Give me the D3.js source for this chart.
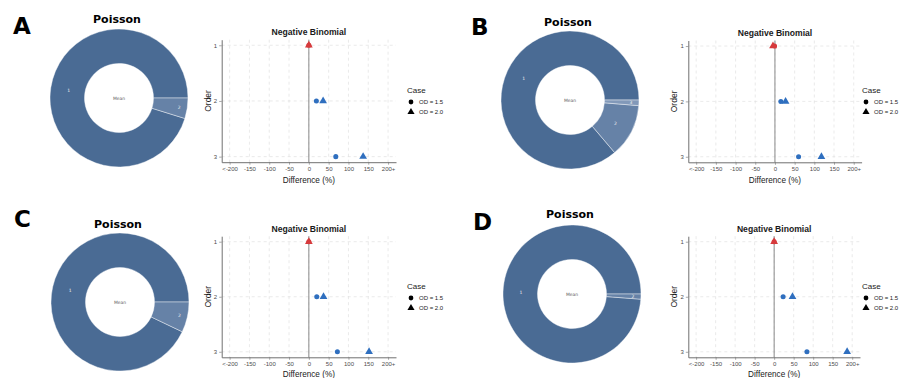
<!DOCTYPE html>
<html>
<head>
<meta charset="utf-8">
<script src="https://cdn.jsdelivr.net/npm/d3@7"></script>
<style>
  body { margin: 0; background: #fff; }
  svg { display: block; }
</style>
</head>
<body>
<div id="chart"></div>
<script>
// Poisson: share (%) of each order in the donut
const poissonA = [95.2, 4.8];
const poissonB = [86.2, 12.5, 1.3];
const poissonC = [92.9, 7.1];
const poissonD = [98.8, 1.2];

// Negative binomial: difference (%) by order, one array per case
const orders = [1, 2, 3];
const od15A = [0, 19, 68];
const od20A = [0, 36, 137];
const od15B = [-1, 15, 60];
const od20B = [-5, 27, 118];
const od15C = [0, 20, 72];
const od20C = [0, 37, 152];
const od15D = [0, 23, 84];
const od20D = [0, 47, 187];

const xTicks = [-200, -150, -100, -50, 0, 50, 100, 150, 200];
const xTickLabels = ['<-200', '-150', '-100', '-50', '0', '50', '100', '150', '200+'];
const caseLabels = ['OD = 1.5', 'OD = 2.0'];
const panelLetters = ['A', 'B', 'C', 'D'];

const width = 918;
const height = 378;

const svg = d3.select('#chart')
    .append('svg')
    .attr('width', width)
    .attr('height', height);

// Layout of each panel (pixel positions only)
const layout = [
    { letter: [13, 33.5], donut: [119, 98], ptitle: [117, 23], xr: [221.7, 396], yr: [39.7, 162.2], legend: [407, 90] },
    { letter: [471, 34.5], donut: [570, 100], ptitle: [568, 25.5], xr: [688.3, 861.6], yr: [40.5, 162.3], legend: [862, 90] },
    { letter: [14, 227], donut: [120, 302], ptitle: [118, 227.5], xr: [221.7, 396], yr: [236.2, 357.3], legend: [407, 286] },
    { letter: [473, 230], donut: [572, 294], ptitle: [570, 217.5], xr: [688.3, 860], yr: [236.2, 357.3], legend: [862, 286] }
];

const poissonData = [poissonA, poissonB, poissonC, poissonD];
const od15Data = [od15A, od15B, od15C, od15D];
const od20Data = [od20A, od20B, od20C, od20D];

const sliceColors = ['#4a6b94', '#6682a7', '#8299b9'];
const blue = '#2f6fbf';
const red = '#d63a3c';

function drawDonut(g, shares, L) {
    const pie = d3.pie().sort(null)
        .startAngle(Math.PI / 2)
        .endAngle(Math.PI / 2 - 2 * Math.PI);
    const arc = d3.arc().innerRadius(34.5).outerRadius(69);
    const dg = g.append('g').attr('transform', `translate(${L.donut[0]},${L.donut[1]})`);

    const arcs = pie(shares);
    dg.selectAll('path')
        .data(arcs)
        .enter()
        .append('path')
        .attr('d', arc)
        .attr('fill', (d, i) => sliceColors[i])
        .attr('stroke', 'rgba(255,255,255,0.7)')
        .attr('stroke-width', 0.6);

    dg.selectAll('text.slice')
        .data(arcs)
        .enter()
        .append('text')
        .attr('class', 'slice')
        .attr('x', d => {
            const a = (d.startAngle + d.endAngle) / 2;
            const r = d.data < 10 ? 61 : 51;
            return Math.sin(a) * r;
        })
        .attr('y', d => {
            const a = (d.startAngle + d.endAngle) / 2;
            const r = d.data < 10 ? 61 : 51;
            return -Math.cos(a) * r;
        })
        .attr('dy', '0.35em')
        .attr('text-anchor', 'middle')
        .attr('font-family', 'DejaVu Sans')
        .attr('font-size', 4.5)
        .attr('fill', '#f2f2f2')
        .text((d, i) => i + 1);

    dg.append('text')
        .attr('dy', '0.35em')
        .attr('text-anchor', 'middle')
        .attr('font-family', 'DejaVu Sans')
        .attr('font-size', 4.5)
        .attr('fill', '#666')
        .text('Mean');

    g.append('text')
        .attr('x', L.ptitle[0])
        .attr('y', L.ptitle[1])
        .attr('text-anchor', 'middle')
        .attr('font-family', 'DejaVu Sans')
        .attr('font-weight', 'bold')
        .attr('font-size', 11)
        .text('Poisson');
}

function drawScatter(g, od15, od20, L) {
    const x = d3.scaleLinear().domain([-220, 220]).range(L.xr);
    const y = d3.scaleLinear().domain([0.9, 3.1]).range(L.yr);

    // dashed grid
    g.append('g').selectAll('line')
        .data(xTicks)
        .enter()
        .append('line')
        .attr('x1', d => x(d)).attr('x2', d => x(d))
        .attr('y1', L.yr[0]).attr('y2', L.yr[1])
        .attr('stroke', '#dcdcdc').attr('stroke-width', 0.6)
        .attr('stroke-dasharray', '3,3');
    g.append('g').selectAll('line')
        .data(orders)
        .enter()
        .append('line')
        .attr('x1', L.xr[0]).attr('x2', L.xr[1])
        .attr('y1', d => y(d)).attr('y2', d => y(d))
        .attr('stroke', '#dcdcdc').attr('stroke-width', 0.6)
        .attr('stroke-dasharray', '3,3');

    // reference line at zero
    g.append('line')
        .attr('x1', x(0)).attr('x2', x(0))
        .attr('y1', L.yr[0]).attr('y2', L.yr[1])
        .attr('stroke', '#8a8a8a').attr('stroke-width', 1);

    const xAxis = d3.axisBottom(x)
        .tickValues(xTicks)
        .tickFormat((d, i) => xTickLabels[i])
        .tickSize(2.5)
        .tickSizeOuter(0);
    const yAxis = d3.axisLeft(y)
        .tickValues(orders)
        .tickFormat(d3.format('d'))
        .tickSize(2.5)
        .tickSizeOuter(0);

    const gx = g.append('g')
        .attr('transform', `translate(0,${L.yr[1]})`)
        .call(xAxis);
    const gy = g.append('g')
        .attr('transform', `translate(${L.xr[0]},0)`)
        .call(yAxis);
    [gx, gy].forEach(a => {
        a.select('.domain').attr('stroke', '#707070').attr('stroke-width', 1);
        a.selectAll('.tick line').attr('stroke', '#707070').attr('stroke-width', 0.6);
        a.selectAll('.tick text')
            .attr('font-family', 'Liberation Sans')
            .attr('font-size', 6)
            .attr('fill', '#4d4d4d');
    });
    gx.selectAll('.tick text').attr('y', 4.5);
    gy.selectAll('.tick text').attr('x', -4.5);

    // points: circles (OD = 1.5) then triangles (OD = 2.0)
    const circle = d3.symbol(d3.symbolCircle, 20);
    const triangle = d3.symbol(d3.symbolTriangle, 26);
    g.append('g').selectAll('path')
        .data(orders)
        .enter()
        .append('path')
        .attr('d', circle)
        .attr('transform', (d, i) => `translate(${x(od15[i])},${y(d)})`)
        .attr('fill', d => d === 1 ? red : blue);
    g.append('g').selectAll('path')
        .data(orders)
        .enter()
        .append('path')
        .attr('d', triangle)
        .attr('transform', (d, i) => `translate(${x(od20[i])},${y(d)})`)
        .attr('fill', d => d === 1 ? red : blue);

    const cx = (L.xr[0] + L.xr[1]) / 2;
    g.append('text')
        .attr('x', cx)
        .attr('y', L.yr[0] - 4.5)
        .attr('text-anchor', 'middle')
        .attr('font-family', 'Liberation Sans')
        .attr('font-weight', 'bold')
        .attr('font-size', 8.6)
        .attr('fill', '#1a1a1a')
        .text('Negative Binomial');

    g.append('text')
        .attr('x', cx)
        .attr('y', Math.min(L.yr[1] + 21, height - 1.5))
        .attr('text-anchor', 'middle')
        .attr('font-family', 'Liberation Sans')
        .attr('font-size', 8.2)
        .attr('fill', '#1a1a1a')
        .text('Difference (%)');

    g.append('text')
        .attr('transform', `translate(${L.xr[0] - 11},${(L.yr[0] + L.yr[1]) / 2}) rotate(-90)`)
        .attr('text-anchor', 'middle')
        .attr('font-family', 'Liberation Sans')
        .attr('font-size', 8.5)
        .attr('fill', '#1a1a1a')
        .text('Order');

    // legend
    const lg = g.append('g').attr('transform', `translate(${L.legend[0]},${L.legend[1]})`);
    lg.append('text')
        .attr('y', 3)
        .attr('font-family', 'Liberation Sans')
        .attr('font-size', 8)
        .attr('fill', '#1a1a1a')
        .text('Case');
    lg.selectAll('g.item')
        .data(caseLabels)
        .enter()
        .append('g')
        .attr('class', 'item')
        .attr('transform', (d, i) => `translate(4,${12 + i * 10})`)
        .each(function (d, i) {
            const it = d3.select(this);
            it.append('path')
                .attr('d', i === 0 ? d3.symbol(d3.symbolCircle, 18) : d3.symbol(d3.symbolTriangle, 22))
                .attr('fill', '#000');
            it.append('text')
                .attr('x', 8)
                .attr('dy', '0.35em')
                .attr('font-family', 'Liberation Sans')
                .attr('font-size', 6)
                .attr('fill', '#1a1a1a')
                .text(d);
        });
}

layout.forEach((L, k) => {
    const g = svg.append('g');
    g.append('text')
        .attr('x', L.letter[0])
        .attr('y', L.letter[1])
        .attr('font-family', 'DejaVu Sans')
        .attr('font-weight', 'bold')
        .attr('font-size', 23)
        .text(panelLetters[k]);
    drawDonut(g, poissonData[k], L);
    drawScatter(g, od15Data[k], od20Data[k], L);
});
</script>
</body>
</html>
